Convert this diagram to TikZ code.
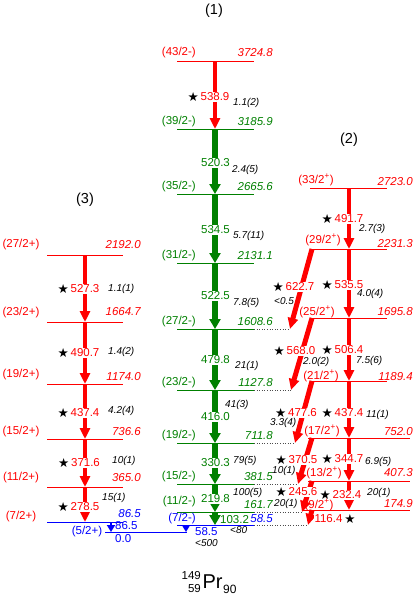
\documentclass[tikz,border=0pt]{standalone}
\usepackage{fontspec}
\setmainfont{Liberation Sans}
\newfontfamily\symfont{DejaVu Sans}
\usetikzlibrary{arrows.meta,positioning}
\newcommand{\fsz}[1]{\fontsize{#1}{#1}\selectfont}
\definecolor{lgreen}{RGB}{0,128,0}
\tikzset{
  lvl/.style={line width=0.7pt},
  lvlext/.style={dotted,line width=0.6pt,black!70},
  spinlbl/.style={font=\fsz{11.5},inner sep=0pt},
  enlbl/.style={font=\fsz{11.5}\itshape,inner sep=0pt},
  trlbl/.style={font=\fsz{11.5},fill=white,inner sep=1pt},
  intlbl/.style={font=\fsz{10}\itshape,inner sep=0pt,anchor=west},
  starlbl/.style={font=\symfont\fsz{12.5},inner sep=0pt},
  gtr/.style={-{Triangle[width=11pt,length=10pt]},line width=6pt,lgreen},
  rtr/.style={-{Triangle[width=10pt,length=11pt]},line width=4.5pt,red},
  btr/.style={-{Triangle[width=8pt,length=7pt]},line width=2.5pt,blue},
  ttl/.style={font=\fsz{14.5}},
}

\begin{document}
\begin{tikzpicture}[x=1pt,y=-1pt]
  \useasboundingbox (0,0) rectangle (415,595);
  \node[ttl] (h1) at (214,11) {(1)};
  \node[ttl] (h2) at (349,140) {(2)};
  \node[ttl] (h3) at (85,200) {(3)};

  % band (1)
  \foreach \i/\yy/\sp/\en/\col/\sy/\ey in {
    1/61/{(43/2-)}/3724.8/red/53/53,
    2/129/{(39/2-)}/3185.9/lgreen/122/122,
    3/194/{(35/2-)}/2665.6/lgreen/187/187,
    4/263/{(31/2-)}/2131.1/lgreen/256/256,
    5/329/{(27/2-)}/1608.6/lgreen/322/322,
    6/390/{(23/2-)}/1127.8/lgreen/383/383,
    7/443/{(19/2-)}/711.8/lgreen/436/436,
    8/484/{(15/2-)}/381.5/lgreen/477/477,
    9/512/{(11/2-)}/161.7/lgreen/502/505,
    10/525/{(7/2-)}/58.5/blue/519/519}
  {
    \coordinate (a\i) at (215,\yy);
    \draw[lvl,\col] (177,\yy) -- (254,\yy);
    \node[spinlbl,text=\col,anchor=east] (as\i) at (196,\sy) {\sp};
    \node[enlbl,text=\col,anchor=east] (ae\i) at (273,\ey) {\en};
  }
  \foreach \i/\yy/\xe in {5/329/290,6/390/291,7/443/295,8/484/298,9/512/302,10/525/308}
  {
    \coordinate (x\i) at (\xe,\yy);
    \draw[lvlext] (254,\yy) -- (x\i);
  }
  \draw[rtr] (a1) -- (a2);
  \foreach \i/\j in {2/3,3/4,4/5,5/6,6/7,7/8,8/9,9/10}
    \draw[gtr] (a\i) -- (a\j);

  % ground state
  \coordinate (g1) at (186,532);
  \coordinate (g0) at (111,532);
  \draw[lvl,blue] (105,532) -- (187,532);
  \coordinate (a10b) at (186,525);
  \draw[btr] (a10b) -- (g1);

  % band (3)
  \foreach \i/\yy/\sp/\en/\col/\sy/\ey in {
    1/255/{(27/2+)}/2192.0/red/245/245,
    2/322/{(23/2+)}/1664.7/red/313/312,
    3/384/{(19/2+)}/1174.0/red/375/377,
    4/439/{(15/2+)}/736.6/red/432/432,
    5/487/{(11/2+)}/365.0/red/478/478,
    6/522/{(7/2+)}/86.5/blue/517/514}
  {
    \coordinate (d\i) at (85,\yy);
    \draw[lvl,\col] (47,\yy) -- (123,\yy);
    \node[spinlbl,text=red] (ds\i) at (21,\sy) {\sp};
    \node[enlbl,text=\col,anchor=east] (de\i) at (141,\ey) {\en};
  }
  \foreach \i/\j in {1/2,2/3,3/4,4/5,5/6}
    \draw[rtr] (d\i) -- (d\j);
  \coordinate (d6b) at (111,522);
  \draw[btr] (d6b) -- (g0);

  % band (2)
  \foreach \i/\yy/\sp/\en/\xl/\xr/\sx/\sy/\ey in {
    1/188/33/2723.0/310/387/316/180/182,
    2/249/29/2231.3/310/387/323/240/244,
    3/318/25/1695.8/310/387/317/312/312,
    4/381/21/1189.4/310/387/321/376/377,
    5/438/17/752.0/308/410/322/431/432,
    6/481/13/407.3/308/410/324/473/473,
    7/510/9/174.9/303/410/319/505/504}
  {
    \coordinate (c\i) at (349,\yy);
    \draw[lvl,red] (\xl,\yy) -- (\xr,\yy);
    \node[spinlbl,text=red] (cs\i) at (\sx,\sy) {(\sp/2\textsuperscript{+})};
    \node[enlbl,text=red,anchor=east] (ce\i) at (413,\ey) {\en};
  }
  \foreach \i/\j in {1/2,2/3,3/4,4/5,5/6,6/7}
    \draw[rtr] (c\i) -- (c\j);
  \foreach \i/\yy/\j in {2/249/5,3/318/6,4/381/7,5/438/8,6/481/9,7/510/10}
  {
    \coordinate (cb\i) at (312,\yy);
    \draw[rtr,line width=5pt] (cb\i) -- (x\j);
  }

  % gamma energies
  \foreach \n/\xx/\yy/\t in {ta1/215/97/538.9,
    td1/85/289/527.3,td2/85/353/490.7,td3/85/413/437.4,td4/85.5/463/371.6,td5/85/507/278.5,
    tc1/349/219/491.7,tc2/349/285/535.5,tc3/349/350/506.4,tc4/349/413/437.4,
    tc5/349/459/344.7,tc6/347/495/232.4,
    tb2/300/287/622.7,tb3/301/351/568.0,tb4/302.5/413/477.6,tb5/303/460/370.5,tb6/303/492/245.6}
  {
    \node[trlbl,text=red] (\n) at (\xx,\yy) {\t};
    \node[starlbl,left=0.5pt of \n] (\n-s) {★};
  }
  \node[trlbl,text=red] (tb7) at (328.5,519) {116.4};
  \node[starlbl,right=0.5pt of tb7] (tb7-s) {★};
  \foreach \n/\yy/\t in {ta2/163/520.3,ta3/230/534.5,ta4/296/522.5,ta5/360/479.8,
    ta6/417/416.0,ta7/463/330.3,ta8/499/219.8}
    \node[trlbl,text=lgreen] (\n) at (215.5,\yy) {\t};
  \node[spinlbl,text=lgreen,anchor=west] (ta9) at (220,520) {103.2};
  \node[spinlbl,text=blue,anchor=west] (ta10) at (195,532) {58.5};
  \node[spinlbl,text=blue,anchor=west] (td6) at (115,526) {86.5};
  \node[spinlbl,text=blue,anchor=west] (g0e) at (115,539) {0.0};
  \node[spinlbl,text=blue] (g0s) at (87,532) {(5/2+)};

  % intensities
  \foreach \n/\xx/\yy/\t in {ia1/233/103/1.1(2),ia2/232/170/2.4(5),ia3/233/236/5.7(11),
    ia4/233/303/7.8(5),ia5/235/366/21(1),ia6/225/405/41(3),ia7/233/461/79(5),
    ia8/233/493/100(5),ia9/230/530/<80,ia10/195/543/<500,
    id1/108/289/1.1(1),id2/108/352/1.4(2),id3/108/411/4.2(4),id4/112/461/10(1),
    id5/102/498/15(1),
    ic1/359/229/2.7(3),ic2/357/294/4.0(4),ic3/356/361/7.5(6),ic4/366/415/11(1),
    ic5/365/462/6.9(5),ic6/367/493/20(1),
    ib2/274/301/<0.5,ib3/303/362/2.0(2),ib4/270/423/3.3(4),ib5/272/471/10(1),
    ib6/274/504/20(1)}
    \node[intlbl] (\n) at (\xx,\yy) {\t};

  % nuclide
  \node[font=\fsz{20},inner sep=0pt] (pr) at (212.5,582) {Pr};
  \node[font=\fsz{11.5},inner sep=0pt,anchor=east] (nA) at (201,576) {149};
  \node[font=\fsz{11.5},inner sep=0pt,anchor=east] (nZ) at (201,589) {59};
  \node[font=\fsz{12},inner sep=0pt,anchor=west] (nN) at (223,589) {90};
\end{tikzpicture}
\end{document}
